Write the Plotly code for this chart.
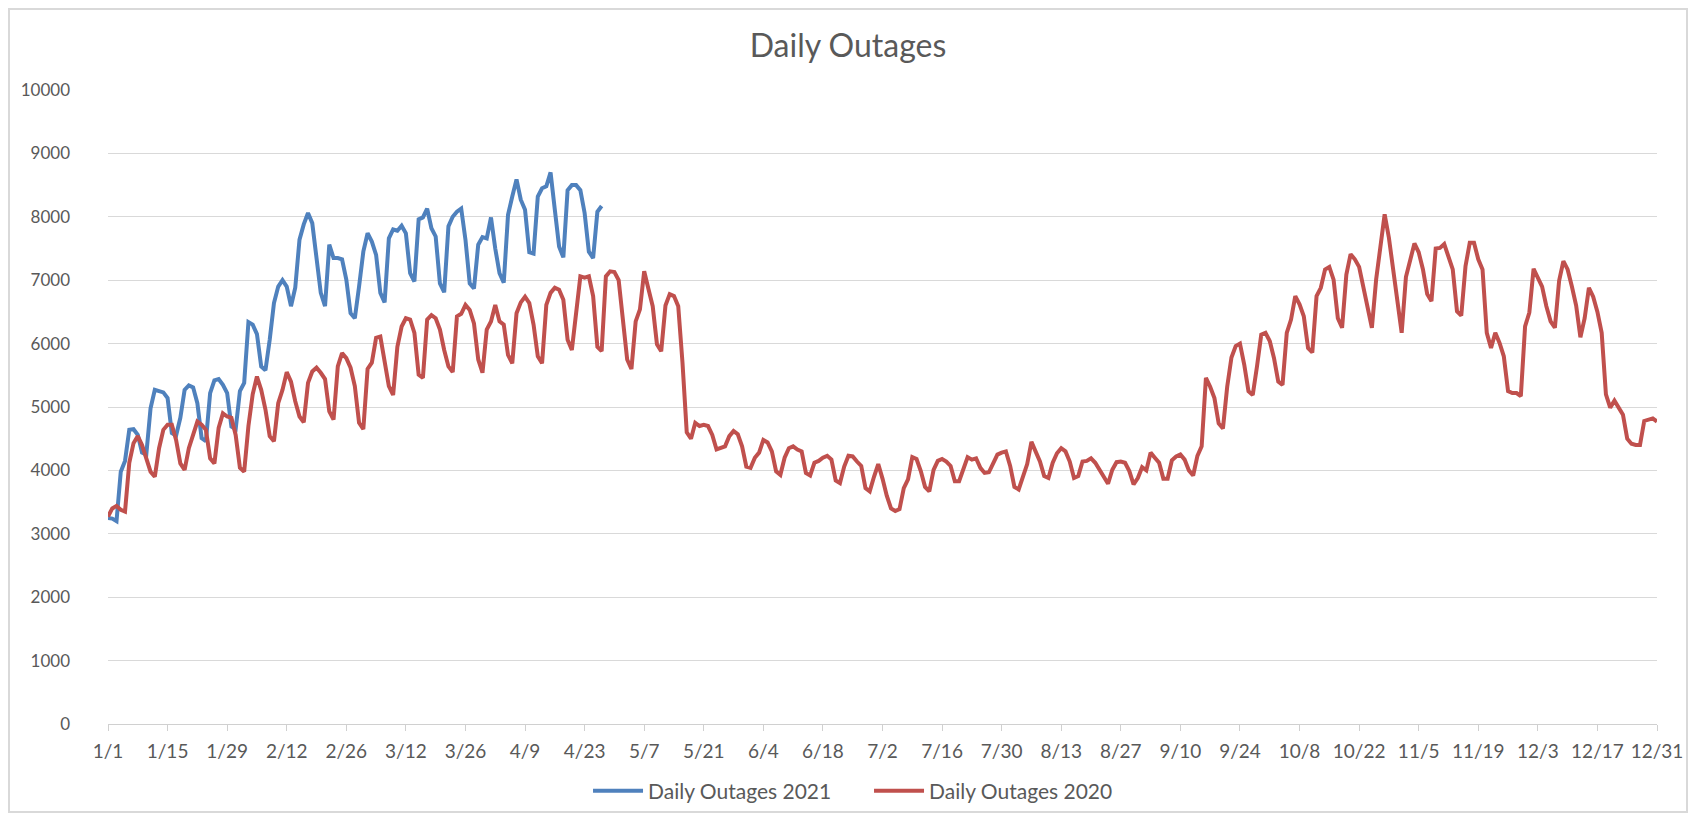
import pandas as pd
import plotly.graph_objects as go

# Category axis: one point per calendar day (non-leap year axis)
days = pd.date_range("2021-01-01", "2021-12-31", freq="D")

outages_2021 = [
    3250, 3240, 3200, 3980, 4150, 4640, 4650, 4560, 4280, 4250,
    4980, 5270, 5250, 5230, 5140, 4590, 4550, 4830, 5270, 5340,
    5310, 5060, 4510, 4460, 5220, 5420, 5440, 5350, 5220, 4690,
    4650, 5250, 5380, 6340, 6300, 6150, 5640, 5580, 6060, 6640,
    6900, 7000, 6900, 6590, 6880, 7640, 7880, 8060, 7900, 7330,
    6800, 6590, 7560, 7350, 7350, 7330, 7010, 6480, 6400, 6900,
    7450, 7740, 7610, 7400, 6800, 6650, 7660, 7800, 7780, 7860,
    7740, 7110, 6980, 7960, 7990, 8130, 7820, 7690, 6950, 6810,
    7850, 8000, 8080, 8130, 7640, 6950, 6870, 7560, 7680, 7660,
    7990, 7500, 7110, 6960, 8030, 8320, 8590, 8270, 8110, 7440,
    7420, 8320, 8450, 8480, 8700, 8110, 7530, 7360, 8420, 8500,
    8500, 8420, 8060, 7450, 7350, 8080, 8170,
]

outages_2020 = [
    3270, 3400, 3440, 3380, 3350, 4120, 4430, 4540, 4400, 4170,
    3980, 3900, 4350, 4640, 4720, 4720, 4480, 4110, 4010, 4350,
    4560, 4770, 4720, 4640, 4190, 4110, 4670, 4900, 4850, 4830,
    4560, 4040, 3980, 4700, 5200, 5480, 5270, 4960, 4540, 4460,
    5060, 5270, 5550, 5400, 5090, 4850, 4760, 5380, 5560, 5620,
    5540, 5440, 4930, 4800, 5640, 5850, 5770, 5620, 5330, 4750,
    4650, 5600, 5700, 6090, 6110, 5690, 5330, 5190, 5950, 6270,
    6400, 6380, 6170, 5510, 5460, 6380, 6450, 6400, 6220, 5900,
    5640, 5550, 6430, 6470, 6610, 6530, 6320, 5750, 5540, 6220,
    6350, 6610, 6350, 6300, 5820, 5690, 6480, 6650, 6740, 6640,
    6300, 5800, 5690, 6610, 6800, 6880, 6850, 6690, 6060, 5900,
    6450, 7060, 7040, 7060, 6750, 5950, 5880, 7060, 7140, 7130,
    7000, 6320, 5750, 5600, 6350, 6540, 7140, 6860, 6590, 5990,
    5880, 6600, 6780, 6750, 6590, 5700, 4600, 4500, 4750, 4700,
    4720, 4700, 4560, 4330, 4350, 4380, 4540, 4620, 4570, 4380,
    4060, 4040, 4200, 4280, 4480, 4440, 4300, 3985, 3930, 4200,
    4350, 4380, 4330, 4300, 3960, 3920, 4120, 4150, 4200, 4230,
    4170, 3840, 3800, 4060, 4230, 4220, 4140, 4070, 3720, 3670,
    3900, 4100, 3870, 3600, 3400, 3360, 3390, 3720, 3860, 4210,
    4180, 3990, 3740, 3670, 4010, 4150, 4180, 4140, 4070, 3830,
    3830, 4010, 4210, 4170, 4190, 4040, 3960, 3970, 4120, 4250,
    4280, 4300, 4070, 3740, 3700, 3880, 4100, 4450, 4300, 4140,
    3910, 3880, 4120, 4270, 4350, 4300, 4140, 3880, 3910, 4140,
    4150, 4190, 4120, 4010, 3880, 3790, 4010, 4130, 4140, 4120,
    3990, 3780, 3880, 4050, 4000, 4280, 4200, 4120, 3870, 3870,
    4160, 4220, 4250, 4170, 4000, 3920, 4230, 4380, 5460, 5320,
    5140, 4740, 4660, 5320, 5780, 5960, 6000, 5670, 5250, 5190,
    5640, 6140, 6170, 6040, 5770, 5400, 5350, 6170, 6380, 6750,
    6620, 6430, 5930, 5860, 6750, 6880, 7170, 7210, 7010, 6400,
    6250, 7090, 7410, 7330, 7210, 6880, 6540, 6250, 7010, 7510,
    8040, 7670, 7170, 6600, 6170, 7050, 7330, 7580, 7440, 7170,
    6780, 6670, 7500, 7510, 7570, 7380, 7170, 6510, 6440, 7220,
    7590, 7590, 7330, 7170, 6170, 5930, 6170, 6010, 5800, 5250,
    5220, 5220, 5170, 6270, 6490, 7180, 7050, 6900, 6590, 6350,
    6250, 6990, 7300, 7170, 6900, 6600, 6100, 6400, 6880, 6740,
    6500, 6170, 5200, 4990, 5100, 4980, 4880, 4500, 4420, 4400,
    4400, 4780, 4800, 4820, 4770,
]

tick_labels = ["1/1", "1/15", "1/29", "2/12", "2/26", "3/12", "3/26", "4/9",
               "4/23", "5/7", "5/21", "6/4", "6/18", "7/2", "7/16", "7/30",
               "8/13", "8/27", "9/10", "9/24", "10/8", "10/22", "11/5",
               "11/19", "12/3", "12/17", "12/31"]
tick_dates = [days[i * 14] for i in range(len(tick_labels))]

FONT = "Lato, Calibri, Carlito, sans-serif"
GREY_TXT = "#595959"

# page has an 8px body margin; figure sized to fit inside the viewport
W, H = 1680, 805
L, R, T, B = 100, 31, 82, 89
PW, PH = W - L - R, H - T - B

fig = go.Figure()
fig.add_trace(go.Scatter(
    x=days[:len(outages_2021)], y=outages_2021, mode="lines",
    name="Daily Outages 2021",
    line=dict(color="#4F81BD", width=4, shape="linear"),
))
fig.add_trace(go.Scatter(
    x=days[:len(outages_2020)], y=outages_2020, mode="lines",
    name="Daily Outages 2020",
    line=dict(color="#C0504D", width=4, shape="linear"),
))

fig.update_layout(
    width=W, height=H,
    margin=dict(l=L, r=R, t=T, b=B, autoexpand=False),
    paper_bgcolor="white", plot_bgcolor="white",
    font=dict(family=FONT, color=GREY_TXT, size=17),
    title=dict(text="Daily Outages", x=0.5, xanchor="center",
               y=1 - 38 / H, yanchor="middle",
               font=dict(family=FONT, size=32, color=GREY_TXT)),
    showlegend=True,
    legend=dict(orientation="h", x=0.4913, xanchor="center",
                y=(T + PH - 783) / PH, yanchor="middle",
                bgcolor="rgba(0,0,0,0)",
                font=dict(family=FONT, size=21, color=GREY_TXT),
                itemwidth=50, entrywidth=216, entrywidthmode="pixels"),
    xaxis=dict(
        range=[days[0], days[-1]],
        tickmode="array", tickvals=tick_dates, ticktext=tick_labels,
        showgrid=False, zeroline=False,
        showline=True, linecolor="#d0d0d0", linewidth=1,
        ticks="outside", ticklen=6, tickcolor="#d0d0d0",
        tickfont=dict(family=FONT, size=19, color=GREY_TXT),
        ticklabelstandoff=4,
    ),
    yaxis=dict(
        range=[0, 10000], tickmode="linear", tick0=0, dtick=1000,
        tickformat="d",
        showgrid=True, gridcolor="#d9d9d9", gridwidth=1,
        zeroline=False, showline=False, ticks="",
        tickfont=dict(family=FONT, size=17, color=GREY_TXT),
        ticklabelstandoff=37,
    ),
    shapes=[dict(type="rect", xref="paper", yref="paper",
                 x0=(1 - L) / PW, x1=(1679 - L) / PW,
                 y0=(T + PH - 804) / PH, y1=(T + PH - 1) / PH,
                 line=dict(color="#d9d9d9", width=2),
                 fillcolor="rgba(0,0,0,0)", layer="below")],
)

fig.write_html("out.html")
